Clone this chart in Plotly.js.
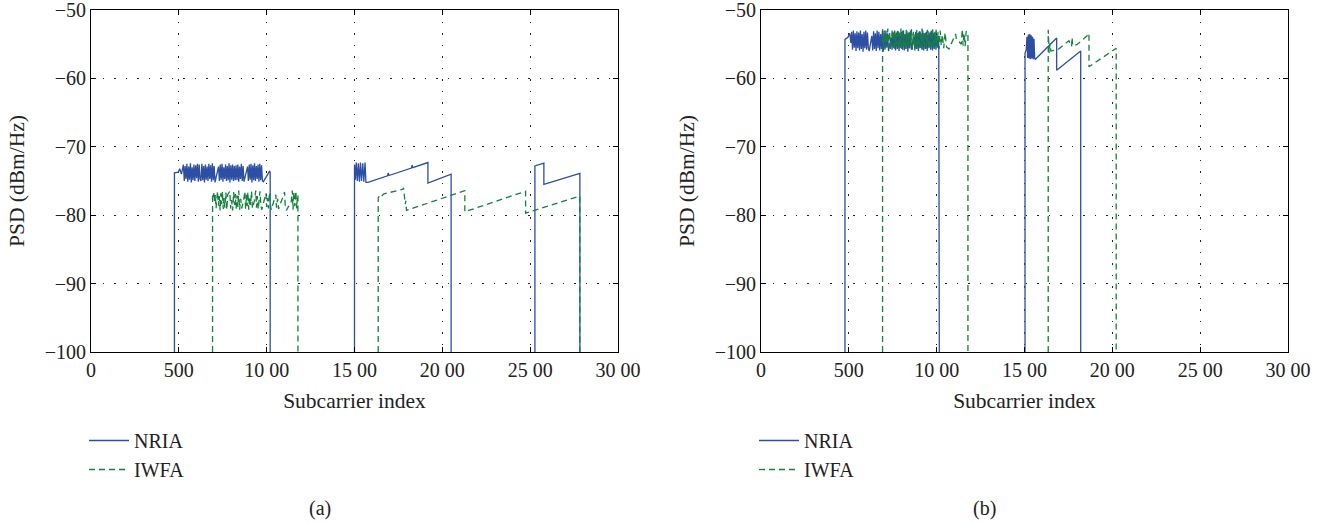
<!DOCTYPE html>
<html>
<head>
<meta charset="utf-8">
<script src="https://cdn.plot.ly/plotly-3.0.1.min.js"></script>
<style>html,body{margin:0;padding:0;background:#fff;}#chart{width:1341px;height:523px;}</style>
</head>
<body>
<div id="chart"></div>
<script>
// ---------- data ----------
const xTickVals = [0, 500, 1000, 1500, 2000, 2500, 3000];
const xTickText = ['0', '500', '10 00', '15 00', '20 00', '25 00', '30 00'];
const yTickVals = [-100, -90, -80, -70, -60, -50];
const yTickText = ['\u2212100', '\u221290', '\u221280', '\u221270', '\u221260', '\u221250'];
const seriesNames = ['NRIA', 'IWFA'];
const panelLabels = ['(a)', '(b)'];

// Panel (a) NRIA
const aNriaX = [475,475,497,505,515,522,
 526,531,536,541,546,551,556,561,566,571,576,581,586,591,596,601,606,611,616,621,626,631,636,641,646,651,656,661,666,671,
 676,681,686,691,696,701,706,711,716,721,726,731,736,741,746,751,756,761,766,771,776,781,786,791,796,801,806,811,816,821,
 826,831,836,841,846,851,856,861,866,871,876,881,886,891,896,901,906,911,916,921,926,931,936,941,946,951,956,961,966,971,976,981,
 1000,1016,1020,1020, null,
 1500,1500,1505,1510,1516,1522,1528,1534,1540,1547,1553,1560,1565,1577,1688,1692,1696,1824,1828,1832,1918,1918,2050,2050, null,
 2527,2527,2578,2578,2783,2783];
const aNriaY = [-100,-73.8,-73.7,-73.2,-74.0,-73.0,
 -72.6,-75.0,-72.8,-74.7,-72.5,-75.1,-72.9,-74.8,-72.4,-75.2,-73.0,-74.9,-72.6,-75.0,-72.7,-74.6,-72.5,-75.1,-72.6,-74.8,-75.0,-72.5,-74.9,-72.8,-75.2,-72.6,-74.8,-72.9,-75.0,-72.5,
 -74.7,-72.7,-75.1,-72.4,-74.9,-72.8,-75.2,-74.6,-74.0,-73.4,-72.9,-75.0,-72.6,-74.8,-72.5,-75.1,-73.0,-74.7,-72.6,-75.0,-72.8,-74.9,-72.4,-75.2,-72.7,-74.8,-72.6,-75.0,-72.8,-74.9,
 -72.7,-74.9,-72.6,-75.1,-72.9,-74.7,-72.5,-75.0,-72.8,-75.1,-74.6,-74.0,-73.5,-72.9,-75.0,-72.6,-74.8,-72.5,-75.2,-72.7,-74.9,-72.4,-75.0,-72.8,-74.7,-72.6,-75.1,-72.5,-74.9,-72.7,-75.0,-75.1,
 -74.3,-73.6,-73.7,-100, null,
 -100,-72.6,-74.8,-72.3,-75.0,-72.4,-75.1,-72.3,-75.0,-72.4,-75.1,-72.3,-75.2,-75.2,-74.25,-73.8,-74.2,-73.1,-72.7,-73.05,-72.3,-75.3,-74.0,-100, null,
 -100,-72.8,-72.4,-75.5,-73.9,-100];

// Panel (a) IWFA
const aIwfaX = [692,692,697,700,704,708,712,716,720,726,730,735,739,744,748,753,757,762,768,773,778,790,795,800,806,812,817,822,826,831,836,841,846,852,858,870,
 876,880,885,889,893,898,903,908,914,919,930,938,942,947,952,957,962,967,972,990,996,1000,1005,1010,1016,1021,1026,1040,1052,1056,1062,1068,1075,1095,
 1102,1106,1112,1140,1146,1150,1154,1160,1166,1171,1175,1178,1178, null,
 1635,1635,1645,1655,1665,1776,1779,1782,1785,1789,1792,1796,2128,2128,2474,2474,2783,2783];
const aIwfaY = [-100,-76.8,-77.3,-76.6,-78.2,-77.0,-79.0,-77.4,-76.5,-78.6,-77.2,-79.3,-76.8,-78.4,-76.5,-79.1,-77.5,-78.9,-76.7,-79.2,-77.0,-76.5,-79.0,-77.8,-79.3,-76.6,-78.5,-76.9,-79.1,-77.1,-78.8,-76.4,-79.2,-77.6,-79.0,-77.6,
 -76.5,-79.1,-77.0,-78.7,-76.6,-79.2,-77.3,-78.5,-76.5,-79.0,-77.9,-76.4,-78.9,-77.2,-79.1,-77.8,-76.5,-78.6,-79.2,-77.4,-76.8,-78.8,-77.5,-79.0,-76.7,-78.4,-79.2,-78.0,-77.0,-78.9,-77.6,-79.1,-78.5,-77.2,
 -76.6,-78.8,-79.3,-78.0,-76.4,-79.2,-76.6,-78.7,-76.5,-79.0,-77.0,-77.2,-100, null,
 -100,-77.5,-77.0,-77.2,-76.9,-76.2,-76.0,-76.6,-77.7,-78.4,-77.9,-79.3,-76.4,-79.5,-76.5,-79.7,-77.2,-100];

// Panel (b) NRIA
const bNriaX = [478,478,495,505,512,
 516,521,526,531,536,541,546,551,556,561,566,571,576,581,586,591,596,601,606,611,616,621,626,631,636,641,646,651,656,661,
 666,671,676,681,686,691,696,701,706,711,716,721,726,731,736,741,746,751,756,761,766,771,776,781,786,791,796,801,806,811,
 816,821,826,831,836,841,846,851,856,861,866,871,876,881,886,891,896,901,906,911,916,921,926,931,936,941,946,951,956,961,
 966,971,976,981,986,991,996,1001,1006,1012,1015, null,
 1503,1503,1510,1514,1518,1522,1526,1530,1534,1538,1542,1546,1550,1554,1558,1562,1683,1683,1820,1820];
const bNriaY = [-100,-54.3,-54.0,-53.4,-54.8,
 -53.2,-55.8,-53.0,-55.5,-53.4,-56.0,-53.1,-55.6,-53.3,-55.9,-53.0,-55.7,-53.5,-56.1,-53.2,-55.6,-53.0,-55.8,-53.3,-55.5,-56.0,-55.2,-54.5,-53.8,-55.9,-53.1,-55.7,-53.4,-56.0,-53.0,
 -55.6,-53.2,-55.9,-53.5,-55.7,-53.1,-56.1,-53.3,-55.8,-53.0,-55.5,-53.4,-56.0,-55.3,-54.6,-53.9,-55.8,-53.2,-55.6,-53.0,-55.9,-53.3,-55.7,-53.1,-56.0,-53.4,-55.6,-53.2,-55.8,-53.0,
 -55.9,-53.5,-55.7,-53.1,-56.1,-53.3,-55.6,-53.0,-55.8,-55.2,-54.4,-53.7,-55.9,-53.2,-55.7,-53.4,-56.0,-53.1,-55.6,-53.3,-55.8,-53.0,-55.9,-53.4,-55.7,-53.2,-56.0,-53.1,-55.6,-53.3,
 -55.8,-53.0,-55.9,-53.4,-55.7,-53.2,-55.8,-53.6,-55.5,-54.0,-100, null,
 -100,-56.3,-55.8,-53.9,-57.0,-53.6,-57.1,-53.5,-57.2,-53.7,-57.1,-53.9,-57.2,-54.2,-57.1,-57.2,-54.1,-58.8,-56.0,-100];

// Panel (b) IWFA
const bIwfaX = [692,692,697,702,707,712,717,722,727,732,737,742,747,752,757,762,767,772,777,782,787,792,797,802,807,812,817,822,827,832,837,842,847,852,857,862,
 867,872,877,882,887,892,897,902,907,912,917,922,927,932,937,942,947,952,957,962,967,972,977,982,987,992,997,1002,1008,1014,1020,1026,1032,1040,1048,1056,
 1070,1108,1112,1140,1146,1150,1156,1162,1168,1175,1178,1178, null,
 1635,1635,1640,1645,1650,1690,1753,1768,1771,1774,1778,1797,1855,1867,1867,2022,2022];
const bIwfaY = [-100,-52.8,-55.2,-53.0,-55.6,-53.4,-55.0,-52.7,-55.5,-53.2,-55.8,-53.6,-52.9,-55.3,-53.1,-55.7,-53.5,-55.1,-52.8,-55.6,-53.3,-55.4,-52.7,-55.8,-53.0,-55.2,-53.6,-55.7,-52.9,-55.3,-53.4,-55.6,-53.1,-55.0,-52.8,-55.8,
 -53.2,-55.4,-53.5,-55.7,-52.9,-55.1,-53.3,-55.6,-53.0,-55.5,-52.7,-55.8,-53.4,-55.2,-53.1,-55.6,-52.9,-55.4,-53.5,-55.7,-53.0,-55.3,-52.8,-55.6,-53.3,-55.1,-52.9,-55.5,-53.2,-55.7,-53.0,-55.2,-53.6,-55.6,-53.3,-55.4,
 -55.7,-53.5,-54.2,-55.0,-52.8,-55.2,-53.4,-55.3,-53.1,-53.3,-53.3,-100, null,
 -100,-52.9,-56.3,-54.9,-56.0,-55.8,-54.5,-55.3,-54.0,-55.2,-55.1,-55.1,-53.8,-53.4,-58.3,-55.6,-100];

// ---------- styling ----------
const BLUE = '#2c4fa3';
const GREEN = '#12823c';
const FONT = 'Liberation Serif, Times New Roman, serif';
const TXT = '#222';
const W = 1341, H = 523;

const traces = [
  {x: aNriaX, y: aNriaY, name: seriesNames[0], xaxis: 'x', yaxis: 'y', legend: 'legend',
   mode: 'lines', line: {color: BLUE, width: 1.3}, connectgaps: false},
  {x: aIwfaX, y: aIwfaY, name: seriesNames[1], xaxis: 'x', yaxis: 'y', legend: 'legend',
   mode: 'lines', line: {color: GREEN, width: 1.3, dash: '6px,4px'}, connectgaps: false},
  {x: bNriaX, y: bNriaY, name: seriesNames[0], xaxis: 'x2', yaxis: 'y2', legend: 'legend2',
   mode: 'lines', line: {color: BLUE, width: 1.3}, connectgaps: false},
  {x: bIwfaX, y: bIwfaY, name: seriesNames[1], xaxis: 'x2', yaxis: 'y2', legend: 'legend2',
   mode: 'lines', line: {color: GREEN, width: 1.3, dash: '6px,4px'}, connectgaps: false}
];

const px = v => v / W;
const py = v => 1 - v / H;

function xAxis(domain, anchor) {
  return {
    domain: domain, anchor: anchor, range: [0, 3000],
    tickmode: 'array', tickvals: xTickVals, ticktext: xTickText,
    ticks: 'inside', ticklen: 5, tickcolor: '#000', tickwidth: 1,
    showline: true, linecolor: '#000', linewidth: 1, mirror: 'ticks',
    showgrid: true, gridcolor: '#222', gridwidth: 1, griddash: '1.5px,10px',
    zeroline: false, automargin: false, ticklabeloverflow: 'allow',
    tickfont: {family: FONT, size: 20, color: TXT},
    title: {text: 'Subcarrier index', font: {family: FONT, size: 21.5, color: TXT}, standoff: 12}
  };
}
function yAxis(anchor) {
  return {
    domain: [py(352), py(10)], anchor: anchor, range: [-100, -50],
    tickmode: 'array', tickvals: yTickVals, ticktext: yTickText,
    ticks: 'inside', ticklen: 5, tickcolor: '#000', tickwidth: 1,
    showline: true, linecolor: '#000', linewidth: 1, mirror: 'ticks',
    showgrid: true, gridcolor: '#222', gridwidth: 1, griddash: '1.5px,10px',
    zeroline: false, automargin: false, ticklabeloverflow: 'allow',
    tickfont: {family: FONT, size: 20, color: TXT},
    title: {text: 'PSD (dBm/Hz)', font: {family: FONT, size: 21.5, color: TXT}, standoff: 14}
  };
}

function legendAt(xpx) {
  return {
    x: px(xpx), y: py(421), xanchor: 'left', yanchor: 'top',
    bgcolor: 'rgba(0,0,0,0)', borderwidth: 0,
    font: {family: FONT, size: 20, color: TXT},
    itemwidth: 40, tracegroupgap: 0
  };
}

const layout = {
  width: W, height: H,
  margin: {l: 0, r: 0, t: 0, b: 0},
  paper_bgcolor: '#fff', plot_bgcolor: '#fff',
  showlegend: true,
  xaxis: xAxis([px(91), px(618)], 'y'),
  yaxis: yAxis('x'),
  xaxis2: xAxis([px(761), px(1288)], 'y2'),
  yaxis2: yAxis('x2'),
  legend: legendAt(84),
  legend2: legendAt(754),
  annotations: [
    {text: panelLabels[0], x: px(320), y: py(508), xref: 'paper', yref: 'paper', showarrow: false,
     xanchor: 'center', yanchor: 'middle', font: {family: FONT, size: 20, color: TXT}},
    {text: panelLabels[1], x: px(985), y: py(508), xref: 'paper', yref: 'paper', showarrow: false,
     xanchor: 'center', yanchor: 'middle', font: {family: FONT, size: 20, color: TXT}}
  ]
};

Plotly.newPlot('chart', traces, layout, {displayModeBar: false, staticPlot: true});
</script>
</body>
</html>
